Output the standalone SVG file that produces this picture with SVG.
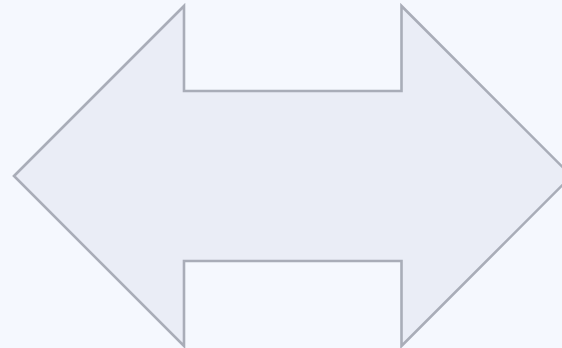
<svg xmlns="http://www.w3.org/2000/svg" width="562" height="348" viewBox="0 0 562 348">
<style>
.bg{fill:#f5f8fe}
.shape{fill:#eaedf6;stroke:#a9adb8;stroke-width:2.6;stroke-linejoin:miter}
</style>
<rect class="bg" x="0" y="0" width="562" height="348"/>
<g id="double-arrow">
<polygon class="shape" points="14,176 184,6 184,91 401.5,91 401.5,6 571.5,176 401.5,346 401.5,261 184,261 184,346"/>
</g>
<g id="connectors"></g>
</svg>
